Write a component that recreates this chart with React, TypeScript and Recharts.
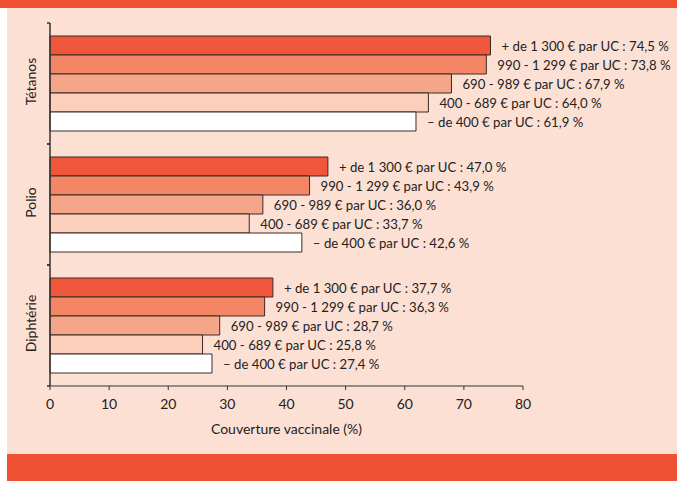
import { Bar, BarChart, LabelList, XAxis, YAxis } from "recharts";

const categories = ["Tétanos", "Polio", "Diphtérie"];
const seriesNames = [
  "+ de 1 300 € par UC",
  "990 - 1 299 € par UC",
  "690 - 989 € par UC",
  "400 - 689 € par UC",
  "– de 400 € par UC",
];
const plus1300 = [74.5, 47.0, 37.7];
const from990 = [73.8, 43.9, 36.3];
const from690 = [67.9, 36.0, 28.7];
const from400 = [64.0, 33.7, 25.8];
const under400 = [61.9, 42.6, 27.4];
const xTicks = [0, 10, 20, 30, 40, 50, 60, 70, 80];

const seriesValues = [plus1300, from990, from690, from400, under400];
const fills = ["#f0573a", "#f48665", "#f6a688", "#fbcfbb", "#ffffff"];

const rows = categories.map((name, i) => {
  const row: Record<string, string | number> = { name };
  seriesValues.forEach((vals, s) => {
    row[`s${s}`] = vals[i];
  });
  return row;
});

const FONT = "Lato, 'Open Sans', sans-serif";
const BAND = (386 - 23) / categories.length;

function CategoryTick(props: any) {
  const { y, payload } = props;
  return (
    <g>
      <line x1={47} x2={50} y1={y - BAND / 2} y2={y - BAND / 2} stroke="#333" strokeWidth={1.5} />
      <line x1={47} x2={50} y1={y + BAND / 2} y2={y + BAND / 2} stroke="#333" strokeWidth={1.5} />
      <text
        x={30}
        y={y - 2}
        transform={`rotate(-90, 30, ${y - 2})`}
        textAnchor="middle"
        dominantBaseline="central"
        fontFamily={FONT}
        fontSize={14}
        fill="#222"
      >
        {payload.value}
      </text>
    </g>
  );
}

function makeLabel(name: string) {
  return (props: any) => {
    const { x, y, width, height, value } = props;
    const txt = `${name} : ${Number(value).toFixed(1).replace(".", ",")} %`;
    return (
      <text
        x={x + width + 11}
        y={y + height / 2}
        dominantBaseline="central"
        fontFamily={FONT}
        fontSize={13.2}
        fill="#222"
      >
        {txt}
      </text>
    );
  };
}

export default function App() {
  return (
    <div
      style={{
        position: "absolute",
        left: 0,
        top: 0,
        width: 677,
        height: 481,
        background: "#ffffff",
        overflow: "hidden",
      }}
    >
      <div style={{ position: "absolute", left: 7, top: 0, width: 670, height: 481, background: "#fde0d4" }} />
      <div style={{ position: "absolute", left: 0, top: 0, width: 677, height: 8, background: "#ef5133" }} />
      <div style={{ position: "absolute", left: 7, top: 454, width: 670, height: 27, background: "#ef5133" }} />
      <div style={{ position: "absolute", left: 0, top: 0 }}>
        <BarChart
          width={677}
          height={481}
          data={rows}
          layout="vertical"
          margin={{ top: 23, right: 154, bottom: 0, left: 0 }}
          barCategoryGap={13}
          barGap={0}
        >
          <XAxis
            type="number"
            domain={[0, 80]}
            ticks={xTicks}
            interval={0}
            height={95}
            tickSize={4}
            stroke="#333"
            tick={{ fill: "#222", fontSize: 14, fontFamily: FONT }}
            tickMargin={9}
            label={{
              value: "Couverture vaccinale (%)",
              position: "insideTop",
              offset: 38,
              fill: "#222",
              fontSize: 14,
              fontFamily: FONT,
            }}
          />
          <YAxis
            type="category"
            dataKey="name"
            width={50}
            tickLine={false}
            axisLine={{ stroke: "#333", strokeWidth: 1.5 }}
            tick={<CategoryTick />}
          />
          {seriesNames.map((name, s) => (
            <Bar
              key={name}
              dataKey={`s${s}`}
              name={name}
              fill={fills[s]}
              stroke="#3a2a25"
              strokeWidth={1}
              isAnimationActive={false}
            >
              <LabelList dataKey={`s${s}`} content={makeLabel(name)} />
            </Bar>
          ))}
        </BarChart>
      </div>
    </div>
  );
}
